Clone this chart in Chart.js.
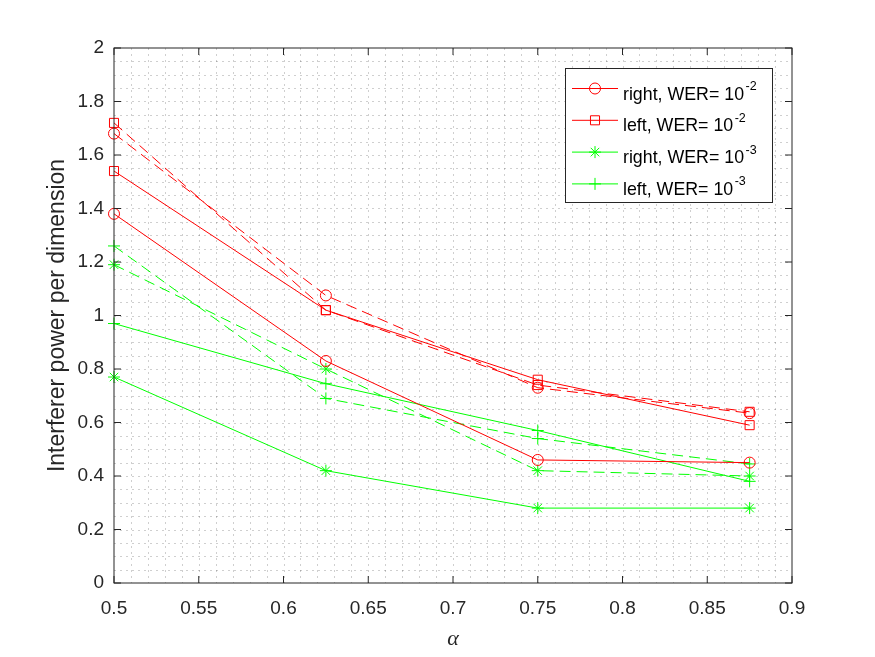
<!DOCTYPE html>
<html>
<head>
<meta charset="utf-8">
<script src="https://cdn.jsdelivr.net/npm/chart.js@4.4.1/dist/chart.umd.min.js"></script>
<style>
  html, body { margin: 0; padding: 0; background: #fff; }
  #wrap { width: 875px; height: 657px; }
</style>
</head>
<body>
<div id="wrap"><canvas id="chart" width="875" height="657"></canvas></div>
<script>
// alpha values on the x axis
const ALPHA = [0.5, 0.625, 0.75, 0.875];

// interferer power per dimension
const RIGHT_WER2 = [1.38, 0.83, 0.46, 0.45];
const RIGHT_WER2_DASHED = [1.68, 1.075, 0.73, 0.635];
const LEFT_WER2 = [1.54, 1.02, 0.76, 0.59];
const LEFT_WER2_DASHED = [1.72, 1.02, 0.74, 0.64];
const RIGHT_WER3 = [0.77, 0.42, 0.28, 0.28];
const RIGHT_WER3_DASHED = [1.19, 0.80, 0.42, 0.40];
const LEFT_WER3 = [0.97, 0.745, 0.57, 0.38];
const LEFT_WER3_DASHED = [1.26, 0.69, 0.54, 0.445];

// tick labels
const X_TICKS = [0.5, 0.55, 0.6, 0.65, 0.7, 0.75, 0.8, 0.85, 0.9];
const Y_TICKS = [0, 0.2, 0.4, 0.6, 0.8, 1, 1.2, 1.4, 1.6, 1.8, 2];

// legend (only the solid curves are listed)
const LEGEND_TEXT = ["right, WER= 10", "left, WER= 10", "right, WER= 10", "left, WER= 10"];
const LEGEND_EXP = ["-2", "-2", "-3", "-3"];

const RED = "#ff0000";
const GREEN = "#00ff00";
const INK = "#262626";
const FONT = '"Liberation Sans", Arial, Helvetica, sans-serif';

const MARKER_SIZE = { circle: 5.5, rect: 6.4, star: 6, cross: 6 };

function series(label, values, color, marker, dashed) {
  return {
    label: label,
    data: ALPHA.map((x, i) => ({ x: x, y: values[i] })),
    borderColor: color,
    borderWidth: 1,
    borderDash: dashed ? [11, 6] : [],
    pointStyle: marker,
    pointRadius: MARKER_SIZE[marker],
    pointHoverRadius: MARKER_SIZE[marker],
    pointBorderColor: color,
    pointBackgroundColor: "rgba(0,0,0,0)",
    pointBorderWidth: 1,
    tension: 0,
    fill: false,
    clip: false
  };
}

// draw a marker the same way for the legend samples
function drawMarker(ctx, style, x, y, r) {
  ctx.beginPath();
  if (style === "circle") {
    ctx.arc(x, y, r, 0, Math.PI * 2);
  } else if (style === "rect") {
    const s = r * Math.SQRT1_2;
    ctx.rect(x - s, y - s, 2 * s, 2 * s);
  } else {
    ctx.moveTo(x - r, y); ctx.lineTo(x + r, y);
    ctx.moveTo(x, y - r); ctx.lineTo(x, y + r);
    if (style === "star") {
      const d = r * Math.SQRT1_2;
      ctx.moveTo(x - d, y - d); ctx.lineTo(x + d, y + d);
      ctx.moveTo(x - d, y + d); ctx.lineTo(x + d, y - d);
    }
  }
  ctx.stroke();
}

// dotted minor grid + boxed axes with inward ticks (MATLAB look)
const gridPlugin = {
  id: "matlabGrid",
  beforeDatasetsDraw(chart) {
    const { ctx, chartArea: a, scales: { x, y } } = chart;
    ctx.save();
    ctx.strokeStyle = "rgba(38,38,38,0.22)";
    ctx.lineWidth = 1;
    ctx.setLineDash([2, 4]);
    for (let k = 1; k < 40; k++) {
      const px = Math.round(x.getPixelForValue(0.5 + k * 0.01)) + 0.5;
      ctx.beginPath(); ctx.moveTo(px, a.top); ctx.lineTo(px, a.bottom); ctx.stroke();
    }
    for (let k = 1; k < 40; k++) {
      const py = Math.round(y.getPixelForValue(k * 0.05)) + 0.5;
      ctx.beginPath(); ctx.moveTo(a.left, py); ctx.lineTo(a.right, py); ctx.stroke();
    }
    ctx.restore();
  },
  afterDatasetsDraw(chart) {
    const { ctx, chartArea: a, scales: { x, y } } = chart;
    const tl = 7;
    ctx.save();
    ctx.strokeStyle = INK;
    ctx.lineWidth = 1;
    ctx.strokeRect(a.left, a.top, a.right - a.left, a.bottom - a.top);
    ctx.beginPath();
    X_TICKS.forEach(v => {
      const px = x.getPixelForValue(v);
      ctx.moveTo(px, a.bottom); ctx.lineTo(px, a.bottom - tl);
      ctx.moveTo(px, a.top); ctx.lineTo(px, a.top + tl);
    });
    Y_TICKS.forEach(v => {
      const py = y.getPixelForValue(v);
      ctx.moveTo(a.left, py); ctx.lineTo(a.left + tl, py);
      ctx.moveTo(a.right, py); ctx.lineTo(a.right - tl, py);
    });
    ctx.stroke();
    ctx.restore();
  },
  afterDraw(chart) {
    const ctx = chart.ctx;
    const box = { left: 565, top: 68, right: 772, bottom: 202 };
    ctx.save();
    ctx.fillStyle = "#fff";
    ctx.fillRect(box.left, box.top, box.right - box.left, box.bottom - box.top);
    ctx.strokeStyle = INK;
    ctx.lineWidth = 1;
    ctx.strokeRect(box.left + 0.5, box.top + 0.5, box.right - box.left, box.bottom - box.top);
    for (let i = 0; i < 4; i++) {
      const ds = chart.data.datasets[i];
      const ly = 88.5 + i * 31.8;
      ctx.strokeStyle = ds.borderColor;
      ctx.setLineDash([]);
      ctx.beginPath(); ctx.moveTo(572, ly); ctx.lineTo(618, ly); ctx.stroke();
      drawMarker(ctx, ds.pointStyle, 595, ly, ds.pointRadius);
      ctx.fillStyle = "#000";
      ctx.textBaseline = "alphabetic";
      ctx.font = "17.8px " + FONT;
      const base = 99.5 + i * 31.8;
      ctx.fillText(LEGEND_TEXT[i], 623, base);
      const w = ctx.measureText(LEGEND_TEXT[i]).width;
      ctx.font = "12.5px " + FONT;
      ctx.fillText(LEGEND_EXP[i], 623 + w + 1.5, base - 9.5);
    }
    ctx.restore();
  }
};

const fmt = v => String(Math.round(v * 1000) / 1000);

new Chart(document.getElementById("chart"), {
  type: "line",
  data: {
    datasets: [
      series("right, WER= 10^-2", RIGHT_WER2, RED, "circle", false),
      series("left, WER= 10^-2", LEFT_WER2, RED, "rect", false),
      series("right, WER= 10^-3", RIGHT_WER3, GREEN, "star", false),
      series("left, WER= 10^-3", LEFT_WER3, GREEN, "cross", false),
      series("right dashed", RIGHT_WER2_DASHED, RED, "circle", true),
      series("left dashed", LEFT_WER2_DASHED, RED, "rect", true),
      series("right dashed", RIGHT_WER3_DASHED, GREEN, "star", true),
      series("left dashed", LEFT_WER3_DASHED, GREEN, "cross", true)
    ]
  },
  options: {
    responsive: false,
    animation: false,
    devicePixelRatio: 1,
    layout: { padding: { left: 44, top: 48, right: 83, bottom: 5 } },
    events: [],
    scales: {
      x: {
        type: "linear",
        min: 0.5,
        max: 0.9,
        afterBuildTicks: s => { s.ticks = X_TICKS.map(v => ({ value: v })); },
        afterFit: s => { s.height = 69; },
        grid: { display: false, drawTicks: false },
        border: { display: false },
        ticks: {
          padding: 14,
          autoSkip: false,
          maxRotation: 0,
          color: INK,
          font: { family: FONT, size: 19 },
          callback: v => fmt(v)
        },
        title: {
          display: true,
          text: "α",
          color: INK,
          padding: 0,
          font: { family: '"Liberation Serif", "Times New Roman", serif', size: 22, style: "italic" }
        }
      },
      y: {
        type: "linear",
        min: 0,
        max: 2,
        afterBuildTicks: s => { s.ticks = Y_TICKS.map(v => ({ value: v })); },
        afterFit: s => { s.width = 70; },
        grid: { display: false, drawTicks: false },
        border: { display: false },
        ticks: {
          padding: 10,
          autoSkip: false,
          color: INK,
          font: { family: FONT, size: 19 },
          callback: v => fmt(v)
        },
        title: {
          display: true,
          text: "Interferer power per dimension",
          color: INK,
          padding: 0,
          font: { family: FONT, size: 23 }
        }
      }
    },
    plugins: {
      legend: { display: false },
      tooltip: { enabled: false }
    }
  },
  plugins: [gridPlugin]
});
</script>
</body>
</html>
